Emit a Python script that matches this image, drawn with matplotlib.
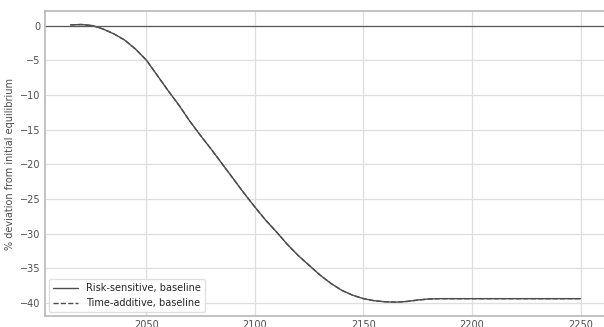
import matplotlib.pyplot as plt

# years and % deviation
years = [2015, 2020, 2025, 2030, 2035, 2040, 2045, 2050, 2055, 2060, 2065, 2070,
         2075, 2080, 2085, 2090, 2095, 2100, 2105, 2110, 2115, 2120, 2125, 2130,
         2135, 2140, 2145, 2150, 2155, 2160, 2165, 2170, 2175, 2180, 2185, 2190,
         2200, 2210, 2220, 2230, 2240, 2250]
risk_sensitive = [0.1, 0.15, 0.0, -0.5, -1.2, -2.1, -3.4, -5.0, -7.2, -9.4, -11.5, -13.8,
                  -15.9, -17.9, -20.0, -22.1, -24.2, -26.2, -28.1, -29.8, -31.6, -33.2, -34.6, -36.0,
                  -37.2, -38.2, -38.9, -39.4, -39.7, -39.85, -39.9, -39.8, -39.6, -39.45, -39.4, -39.4,
                  -39.4, -39.4, -39.4, -39.4, -39.4, -39.4]
time_additive = [0.1, 0.15, 0.0, -0.5, -1.2, -2.1, -3.4, -5.0, -7.2, -9.4, -11.5, -13.8,
                 -15.9, -17.9, -20.0, -22.1, -24.2, -26.2, -28.1, -29.8, -31.6, -33.2, -34.6, -36.0,
                 -37.2, -38.2, -38.9, -39.4, -39.7, -39.85, -39.9, -39.8, -39.6, -39.45, -39.4, -39.4,
                 -39.4, -39.4, -39.4, -39.4, -39.4, -39.4]

plt.style.use('seaborn-v0_8-whitegrid')
plt.rcParams['font.family'] = ['DejaVu Sans']
plt.rcParams['font.size'] = 7

fig = plt.figure(figsize=(6.04, 3.27), dpi=100)
# axes runs slightly past the right edge, like the cropped original
ax = fig.add_axes([45 / 604, 11 / 327, 561 / 604, 305 / 327])

ax.plot(years, risk_sensitive, color='0.3', lw=1.0, label='Risk-sensitive, baseline')
ax.plot(years, time_additive, color='0.3', lw=1.0, ls='--', label='Time-additive, baseline')
ax.axhline(0, color='0.35', lw=0.9)

ax.set_xlim(2003.25, 2261.75)
ax.set_ylim(-41.9, 2.1)
ax.set_xticks([2050, 2100, 2150, 2200, 2250])
ax.set_yticks([0, -5, -10, -15, -20, -25, -30, -35, -40])
ax.tick_params(labelsize=7, colors='0.3', pad=3)
ax.set_ylabel('% deviation from initial equilibrium', fontsize=7, color='0.3')
ax.grid(color='0.87', lw=0.9)

for s in ax.spines.values():
    s.set_color('0.72')
    s.set_linewidth(1.2)

ax.legend(loc='lower left', frameon=True, fontsize=7, handlelength=2.6,
          borderaxespad=0.4, edgecolor='0.85')

fig.savefig('out.png', dpi=100)
